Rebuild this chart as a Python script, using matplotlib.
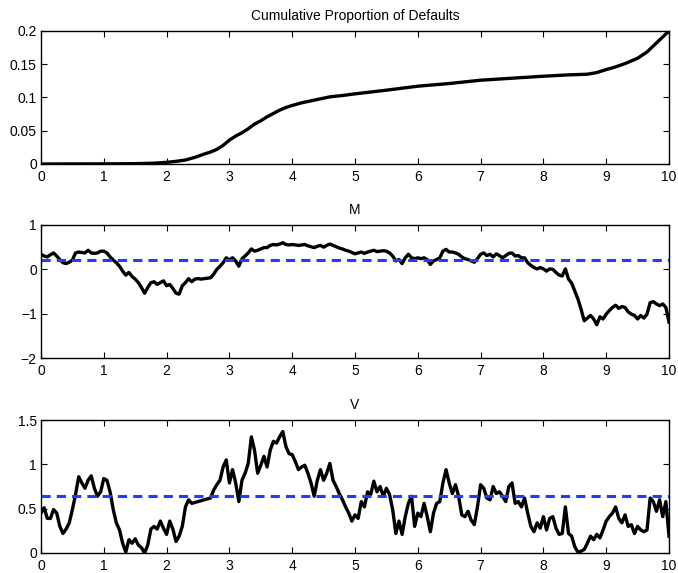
import matplotlib
matplotlib.use('Agg')
import matplotlib.pyplot as plt
import numpy as np

plt.rcParams['font.family'] = ['Liberation Sans', 'DejaVu Sans']
plt.rcParams['font.size'] = 10

# cumulative proportion of defaults
t_cum = [0, 1.0, 1.5, 1.8, 2.0, 2.15, 2.3, 2.45, 2.6, 2.7, 2.8, 2.9, 3.0, 3.1,
         3.2, 3.3, 3.4, 3.5, 3.6, 3.7, 3.8, 3.9, 4.0, 4.15, 4.3, 4.45, 4.6, 4.8,
         5.0, 5.5, 6.0, 6.5, 7.0, 7.5, 8.0, 8.4, 8.7, 8.85, 9.0, 9.15, 9.3,
         9.5, 9.65, 9.8, 10.0]
cum = [0, 0.0002, 0.0005, 0.0012, 0.0025, 0.004, 0.006, 0.010, 0.015, 0.018,
       0.022, 0.028, 0.036, 0.042, 0.047, 0.053, 0.060, 0.065, 0.071, 0.076,
       0.081, 0.085, 0.088, 0.092, 0.095, 0.098, 0.101, 0.103,
       0.1055, 0.111, 0.117, 0.121, 0.126, 0.129, 0.132,
       0.134, 0.135, 0.1375, 0.142, 0.146, 0.151, 0.159, 0.1685, 0.182, 0.2]

# M path, sampled every 0.05
t_path = np.round(np.arange(0, 10.0001, 0.05), 2)
m_vals = [0.34, 0.30, 0.28, 0.33, 0.37, 0.30, 0.22, 0.15, 0.13, 0.16,
          0.21, 0.37, 0.39, 0.38, 0.37, 0.43, 0.37, 0.36, 0.37, 0.41,
          0.41, 0.37, 0.28, 0.21, 0.15, 0.07, -0.04, -0.13, -0.07, -0.16,
          -0.22, -0.30, -0.41, -0.54, -0.41, -0.30, -0.28, -0.34, -0.30, -0.26,
          -0.37, -0.34, -0.43, -0.54, -0.56, -0.37, -0.30, -0.21, -0.28, -0.22,
          -0.21, -0.22, -0.21, -0.20, -0.19, -0.11, 0.00, 0.07, 0.15, 0.26,
          0.21, 0.26, 0.19, 0.07, 0.24, 0.30, 0.37, 0.46, 0.41, 0.43,
          0.46, 0.49, 0.49, 0.54, 0.56, 0.55, 0.57, 0.60, 0.56, 0.55,
          0.56, 0.55, 0.54, 0.55, 0.56, 0.53, 0.51, 0.49, 0.52, 0.54,
          0.50, 0.54, 0.57, 0.54, 0.51, 0.48, 0.46, 0.43, 0.41, 0.38,
          0.35, 0.37, 0.39, 0.36, 0.39, 0.41, 0.43, 0.40, 0.41, 0.42,
          0.41, 0.37, 0.30, 0.19, 0.22, 0.13, 0.26, 0.34, 0.26, 0.24,
          0.26, 0.24, 0.26, 0.22, 0.11, 0.19, 0.22, 0.26, 0.41, 0.45,
          0.39, 0.39, 0.37, 0.34, 0.28, 0.24, 0.22, 0.19, 0.16, 0.24,
          0.34, 0.37, 0.31, 0.34, 0.28, 0.35, 0.31, 0.26, 0.31, 0.36,
          0.37, 0.30, 0.31, 0.26, 0.26, 0.15, 0.09, 0.04, 0.01, 0.04,
          0.01, -0.04, 0.01, 0.00, -0.07, -0.13, -0.15, 0.01, -0.22, -0.31,
          -0.49, -0.67, -0.90, -1.16, -1.10, -1.04, -1.12, -1.25, -1.07, -1.12,
          -1.01, -0.93, -0.86, -0.81, -0.88, -0.84, -0.86, -0.96, -1.01, -1.04,
          -1.12, -1.04, -1.10, -1.01, -0.75, -0.73, -0.78, -0.82, -0.78, -0.86,
          -1.19]
m_mean = 0.21

# V path, sampled every 0.05
v_vals = [0.45, 0.51, 0.39, 0.39, 0.49, 0.45, 0.30, 0.22, 0.27, 0.34,
          0.49, 0.66, 0.86, 0.79, 0.73, 0.82, 0.87, 0.73, 0.64, 0.69,
          0.84, 0.82, 0.69, 0.49, 0.34, 0.26, 0.11, 0.01, 0.15, 0.11,
          0.16, 0.09, 0.06, 0.00, 0.09, 0.27, 0.30, 0.27, 0.36, 0.28,
          0.21, 0.36, 0.27, 0.13, 0.19, 0.30, 0.52, 0.60, 0.56, 0.57,
          0.58, 0.59, 0.60, 0.61, 0.62, 0.71, 0.77, 0.82, 0.97, 1.05,
          0.79, 0.94, 0.79, 0.58, 0.82, 0.90, 1.01, 1.31, 1.16, 0.90,
          0.99, 1.09, 0.97, 1.16, 1.26, 1.24, 1.31, 1.37, 1.20, 1.12,
          1.11, 1.03, 0.94, 0.97, 0.99, 0.90, 0.79, 0.64, 0.82, 0.94,
          0.82, 0.90, 1.01, 0.82, 0.75, 0.67, 0.60, 0.52, 0.45, 0.36,
          0.43, 0.39, 0.58, 0.52, 0.69, 0.66, 0.81, 0.69, 0.75, 0.64,
          0.73, 0.66, 0.49, 0.22, 0.36, 0.21, 0.41, 0.56, 0.64, 0.30,
          0.45, 0.41, 0.56, 0.41, 0.24, 0.45, 0.56, 0.58, 0.79, 0.94,
          0.79, 0.67, 0.77, 0.64, 0.43, 0.41, 0.47, 0.37, 0.32, 0.52,
          0.77, 0.73, 0.62, 0.60, 0.75, 0.67, 0.69, 0.64, 0.58, 0.75,
          0.79, 0.56, 0.58, 0.52, 0.62, 0.45, 0.30, 0.24, 0.34, 0.28,
          0.41, 0.26, 0.39, 0.41, 0.28, 0.21, 0.22, 0.52, 0.22, 0.19,
          0.07, 0.01, 0.02, 0.04, 0.11, 0.19, 0.15, 0.21, 0.17, 0.26,
          0.36, 0.41, 0.45, 0.52, 0.39, 0.34, 0.43, 0.30, 0.32, 0.22,
          0.30, 0.26, 0.24, 0.26, 0.62, 0.58, 0.47, 0.60, 0.41, 0.58,
          0.19]
v_mean = 0.64

dash_blue = '#1f3cff'

fig = plt.figure(figsize=(6.78, 5.73), dpi=100)
W, H = 678.0, 573.0
left, width = 41 / W, 628 / W
hgt = 133 / H
bottoms = [1 - 164 / H, 1 - 358 / H, 1 - 553 / H]
axs = [fig.add_axes([left, b, width, hgt]) for b in bottoms]


def style(ax):
    ax.set_xlim(0, 10)
    ax.set_xticks(range(11))
    ax.tick_params(direction='in', top=True, right=True, length=4, width=0.8,
                   labelsize=10)
    ax.tick_params(axis='x', pad=4)
    ax.tick_params(axis='y', pad=3)
    for s in ax.spines.values():
        s.set_linewidth(1.0)


ax = axs[0]
ax.plot(t_cum, cum, color='k', lw=2.4)
ax.set_ylim(0, 0.2)
ax.set_yticks([0, 0.05, 0.1, 0.15, 0.2])
ax.set_yticklabels(['0', '0.05', '0.1', '0.15', '0.2'])
ax.set_title('Cumulative Proportion of Defaults', fontsize=10, pad=8)
style(ax)

ax = axs[1]
ax.plot(t_path, m_vals, color='k', lw=2.4)
ax.axhline(m_mean, color=dash_blue, lw=2.2, dashes=(3.0, 2.0))
ax.set_ylim(-2, 1)
ax.set_yticks([-2, -1, 0, 1])
ax.set_yticklabels(['\u22122', '\u22121', '0', '1'])
ax.set_title('M', fontsize=10, pad=8)
style(ax)

ax = axs[2]
ax.plot(t_path, v_vals, color='k', lw=2.4)
ax.axhline(v_mean, color=dash_blue, lw=2.2, dashes=(3.0, 2.0))
ax.set_ylim(0, 1.5)
ax.set_yticks([0, 0.5, 1, 1.5])
ax.set_yticklabels(['0', '0.5', '1', '1.5'])
ax.set_title('V', fontsize=10, pad=8)
style(ax)

fig.savefig('out.png', dpi=100)
